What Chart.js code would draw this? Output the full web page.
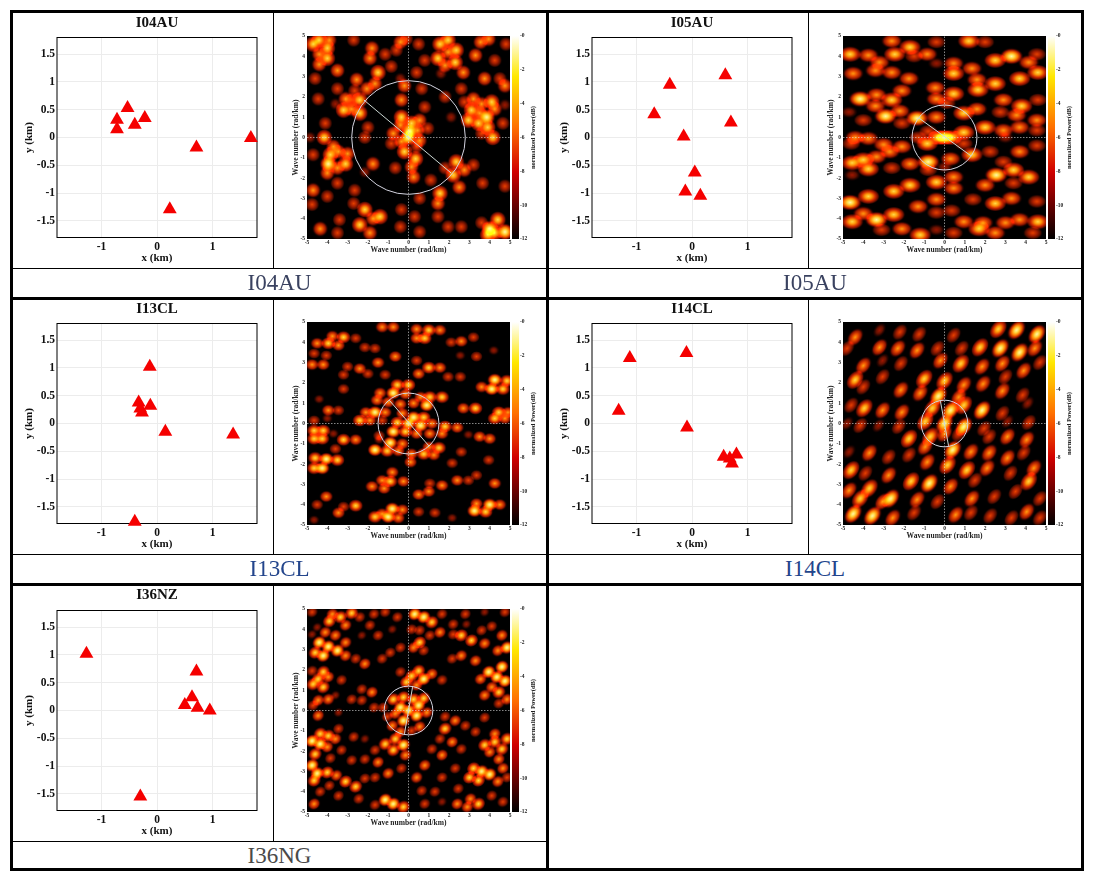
<!DOCTYPE html>
<html lang="en">
<head>
<meta charset="UTF-8">
<title>Array layouts and wavenumber response</title>
<script src="https://cdn.jsdelivr.net/npm/chart.js@4/dist/chart.umd.min.js"></script>
<style>
    body { margin: 0; background: #fff; width: 1107px; height: 876px; overflow: hidden; position: relative; }
    canvas { position: absolute; }
    .line { position: absolute; background: #000; }
    .caption { position: absolute; text-align: center; font: 23px "Liberation Serif", serif; line-height: 28px; }
</style>
</head>
<body>
<script>
// station positions (km)
const i04x = [-0.72, -0.72, -0.53, -0.4, -0.22, 0.71, 1.69, 0.23];
const i04y = [0.32, 0.15, 0.53, 0.23, 0.35, -0.18, -0.01, -1.29];
const i05x = [-0.4, 0.6, -0.68, 0.7, -0.15, 0.05, -0.12, 0.15];
const i05y = [0.95, 1.12, 0.42, 0.27, 0.02, -0.63, -0.97, -1.05];
const i13x = [-0.13, -0.33, -0.12, -0.27, -0.3, 0.15, 1.37, -0.4];
const i13y = [1.02, 0.38, 0.32, 0.2, 0.27, -0.15, -0.2, -1.77];
const i14x = [-1.12, -0.1, -1.32, -0.09, 0.57, 0.8, 0.68, 0.72];
const i14y = [1.18, 1.27, 0.23, -0.07, -0.6, -0.56, -0.63, -0.72];
const i36x = [-1.27, 0.71, 0.63, 0.5, 0.73, 0.95, -0.3];
const i36y = [1.02, 0.7, 0.24, 0.1, 0.05, 0, -1.55];

const xTicks = [-1, 0, 1];
const yTicks = [-1.5, -1, -0.5, 0, 0.5, 1, 1.5];
const waveTicks = [-5, -4, -3, -2, -1, 0, 1, 2, 3, 4, 5];
const powerTicks = [-12, -10, -8, -6, -4, -2, 0];

// ring radius and the line across it (rad/km)
const ringR = { i04: 2.8, i05: 1.6, i13: 1.5, i14: 1.15, i36: 1.2 };
const chord = {
    i04: [[-2.2, 1.85], [2.1, -1.75]],
    i05: [[-1.25, 0.95], [1.3, -0.9]],
    i13: [[-0.95, 1.15], [1.0, -1.1]],
    i14: [[-0.2, 1.1], [0.2, -1.1]],
    i36: [[0.2, 1.15], [-0.2, -1.15]]
};

// response peaks: kx, ky, brightness 1-5
const heatI04 = [[-4.7,4.6,4],[-4.4,4.8,4],[-4,4.4,4],[-3.9,4.8,3],[-4,3.9,4],[-4.4,4.1,3],[-4.4,3.6,3],[-3.5,3.3,3],[-2.7,4.8,2],[-4.6,2.9,2],
[-1.8,4.4,3],[-1.9,3.9,3],[-1.5,3.2,4],[-1.65,2.65,3],[-2.55,2.85,3],[-2.05,2.4,3],[-3.5,2.4,2],[-2.65,2.3,2],[-3.1,1.9,3],[-4.45,1.9,2],[-2.4,1.85,4],[-2.8,1.85,2],[-3.2,1.35,4],[-2.4,1.2,4],[-2.8,1.4,3],[-3.6,1.65,1],[-0.4,4.7,3],[-0.1,4.85,2],[-0.6,4.3,2],[-1.15,4.1,2],[-0.85,3.5,2],[-0.2,2.55,3],[0.65,2.4,2],[-0.4,2.9,1],[0.4,3.2,2],[0.8,3.8,2],[0.5,4.6,2],
[1.55,4.6,4],[1.95,4.8,4],[2.35,4.3,4],[1.95,4.2,3],[1.45,3.9,4],[2.3,3.7,4],[1.8,3.55,3],[2.7,3.2,3],[3.55,4.7,3],[3.95,4.85,3],[4.8,4.6,2],[3.3,4.05,3],[4.25,3.8,2],[3.75,2.9,3],[4.5,2.9,2],[4.75,2.55,3],[2.6,2.4,2],[1.6,3.15,1],
[3.2,1.9,3],[3.6,1.65,3],[4.1,1.75,4],[3.1,1.35,4],[3.5,1.2,3],[3.85,1,5],[4.25,1.4,3],[2.95,0.85,4],[3.45,0.7,4],[3.9,0.5,4],[4.15,0,4],[3.6,0.2,2],[4.65,0.7,2],[4.75,1.6,1],[2.75,1.75,2],[1.8,2,2],[0.8,1.5,2],[2.1,1,1],
[-0.35,1.85,3],[-0.35,1,4],[-0.4,0.6,3],[0.15,0.7,4],[0.55,0.85,3],[0.05,0.3,5],[0.45,0.35,3],[0.95,0.45,2],[-0.75,0.2,3],[0,0,5],[-0.35,-0.2,3],[0.55,-0.15,3],[-0.85,-0.3,2],[-0.2,-0.7,4],[0.4,-0.45,2],[0.35,-1.05,4],[-2,0.5,2],[-2.15,0,2],[-1.75,-1.3,3],[0.15,-1.45,3],[0.25,-1.95,3],[-0.65,-1.5,2],
[-4.15,0,4],[-4.1,0.7,2],[-3.7,-0.45,3],[-3.85,-0.85,4],[-3.45,-0.7,3],[-3.95,-1.3,5],[-3,-0.8,3],[-3.1,-1.3,4],[-3.5,-1.5,3],[-4,-1.75,3],[-3.5,-2.25,2],[-4.7,-2.6,3],[-4.7,-0.85,2],[-4.85,0,1],[-4.75,-3.3,2],[-4,-2.9,2],[-2.15,-1.7,1],[-2.65,-2.6,2],
[2.35,-1.2,4],[2.2,-1.85,4],[1.8,-1.5,2],[2.75,-1.6,3],[3.2,-1.35,2],[2.5,-2.45,3],[1.55,-2.75,4],[1.45,-3.25,3],[1.1,-2.1,2],[0.55,-3,2],[3.65,-2.25,2],[4.75,-2.4,2],
[-2.15,-3.55,4],[-1.75,-4,3],[-2.4,-4.3,4],[-1.4,-3.9,4],[-1.9,-4.7,3],[-2.7,-3.25,2],[-3.4,-4.05,2],[-4.35,-4.5,3],[-3.5,-4.7,2],[-0.35,-3.55,2],[0.3,-3.9,2],[-0.4,-4.4,2],[0.55,-4.65,2],[1.45,-3.9,2],[1.95,-4.4,2],[2.6,-4.4,2],[4,-4.5,5],[4.4,-4.05,4],[4.75,-4.65,5],[4.25,-4.7,4],[3.9,-4.8,4],[3.6,-4.2,2]];

const heatI05 = [[1.2,4.75,4],[-2.6,4.75,3],[-0.4,4.7,2],[-1.7,4.45,4],[-4.65,4.1,4],[-3.75,4.05,3],[-2.45,4.1,4],[-3.2,3.7,3],[-0.85,4.1,3],[-1.5,4,2],[3.3,4,5],[2.5,3.8,4],[4.15,3.7,3],[4.55,4.1,2],[2,4.7,2],[0.45,3.65,3],[1.35,3.4,3],[-0.4,3.65,1],
[-4.5,3.15,3],[-2.6,3.2,3],[-3.4,3.3,3],[-1.75,2.9,3],[0.45,3.15,4],[1.6,2.85,3],[2.5,2.65,4],[3.7,2.9,4],[4.6,3.2,4],
[-0.45,2.45,3],[-2.1,2.3,3],[0.45,2.15,4],[1.65,2.35,4],[-4.15,1.9,5],[-3.35,2.1,3],[-2.6,1.85,4],[-3.4,1.55,3],[-0.4,1.9,3],[2.9,1.85,3],[3.8,1.55,4],[4.6,1.85,2],[1.6,1.4,3],[0.1,1.7,2],[-2.2,1.3,3],[-2.9,1.05,5],[-4,0.85,2],[-4.7,1.25,1],[-1.35,0.95,5],[0.95,1.2,4],[-0.4,1,3],[2.75,1.25,2],[3.55,1.1,3],[4.55,0.85,3],[-2.1,0.7,2],[2,0.5,4],[2.9,0.35,3],[3.7,0.5,3],[4.55,0.35,2],[-0.8,0.3,2],[0.95,0.25,4],
[-4.4,0,3],[-3.75,-0.05,3],[0,0,5],[-0.3,0,4],[0.35,0,4],[-1.3,0,2],[-4.6,-0.3,2],[-3,-0.35,3],[-2.1,-0.45,3],[-0.85,-0.3,4],[0.95,-0.3,2],[3,0,1],[2.25,-0.7,2],[3.7,-0.7,3],[4.55,-0.4,2],
[-4,-1.1,4],[-4.55,-1.25,4],[-3.35,-0.95,3],[-2.7,-0.7,3],[-1.7,-1.3,3],[-0.8,-1.2,5],[0.3,-1.05,3],[1.35,-0.85,4],[2.9,-1.2,2],[-3.75,-1.55,4],[-2.6,-1.5,2],[3.4,-1.6,4],[2.55,-1.85,5],[4.15,-1.95,4],[0,-1.45,1],[-0.8,-1.6,2],[0.45,-1.95,3],[-4.55,-1.85,1],
[-0.4,-2.2,4],[-1.7,-2.35,4],[0.45,-2.5,3],[2,-2.35,3],[3.4,-2.25,2],[-2.5,-2.65,4],[-3.75,-2.9,4],[-0.4,-3.05,3],[2.5,-3.25,4],[-4.65,-3.2,5],[1.4,-3.05,2],[3.3,-3,3],[4.55,-3.15,2],[-1.3,-3.4,3],[-4,-3.75,3],[-3.35,-4.05,5],[-2.5,-3.8,4],[-0.4,-3.7,2],[0.35,-3.6,2],[0.95,-4.15,3],[1.9,-4.2,3],[3,-4.2,3],[3.7,-4.05,3],[4.6,-4.15,4],[-4.55,-4.15,4],[-2.1,-4.5,3],[1.7,-4.5,4],[-1.2,-4.8,4],[-3.1,-4.55,2],[0.45,-4.7,2],[2.5,-4.7,3],[4.35,-4.7,2],[-0.4,-4.55,1]];

const heatI13 = [[-1.3,4.75,3],[-0.75,4.75,3],[0.4,4.65,3],[1,4.6,4],[1.55,4.6,3],[0.8,4.2,4],[0.4,4.2,3],[-3.75,4.3,3],[-3.2,4.25,4],[-3.95,3.95,4],[-4.5,3.95,3],[-3.45,3.85,3],[-2.6,4.2,2],[2.6,4.05,3],[3.2,4.25,2],[2.1,4,2],[-4.65,3.45,2],[-4.05,3.35,2],[-2.15,3.75,2],[-1.65,3.7,2],[3.35,3.3,2],[4.2,3.6,1],
[-4.75,2.9,3],[-4.2,2.9,3],[-3,2.8,2],[-2.4,2.7,3],[-1.5,3,3],[-0.65,3.3,3],[0.4,3.1,2],[1,2.75,4],[1.55,2.75,3],[0.5,2.45,3],[2.55,3.35,1],[-3.2,2.4,2],[-2,2.45,2],[-1.15,2.4,2],[1.95,2.3,2],[2.55,2.3,2],[4.25,2.15,5],[4.85,2.1,4],[3.6,1.8,3],[4.1,1.7,5],[4.65,1.7,4],
[-0.55,1.9,4],[0,1.9,4],[-1.4,1.5,3],[-0.75,1.5,5],[-0.15,1.45,3],[1.65,1.3,4],[1.05,1.3,4],[0.6,1.3,3],[-1.55,1.15,3],[-1,1.05,3],[-0.4,0.95,3],[0.25,1,3],[0.9,0.9,5],[-2.1,0.55,3],[-1.65,0.55,5],[-1.15,0.55,3],[0.25,0.3,5],[0.75,0.3,4],[-0.3,0.5,3],[-2.4,0.15,4],[-1.9,0.15,3],[-1.3,0.15,2],[-0.55,0.05,4],[0,0,5],[0.6,-0.1,5],[1.15,0,3],[1.8,-0.15,4],[2.4,-0.2,3],[-0.75,-0.4,5],[-0.15,-0.4,4],[0.4,-0.5,3],[1.05,-0.5,3],[1.65,-0.5,3],[-1.45,-0.6,2],[-0.9,-0.95,5],[-1.45,-0.8,1],[-0.3,-1,3],[1,-1.15,3],[1.5,-1.2,4],[-1.65,-1.3,5],[-1.05,-1.35,4],[-0.5,-1.35,3],[0.75,-1.5,4],[0.15,-1.5,3],[1.25,-1.55,3],
[-4.65,-0.35,4],[-4.2,-0.35,4],[-4.65,-0.75,4],[-4.25,-0.75,4],[-3.7,-0.5,1],[-3.2,-0.8,4],[-2.6,-0.8,3],[-3.6,-1.25,2],[-4.6,-1.7,4],[-4.05,-1.75,5],[-3.5,-1.8,4],[-4.65,-2.2,4],[-4.25,-2.2,5],[-3.95,0.65,3],[-3.45,0.65,2],[-4.65,0.15,2],[-4,0.25,1],[-3.2,1.7,2],[-4.4,1.2,1],[2.7,0.75,3],[3.3,0.75,4],[4.45,0.55,4],[4.9,0.55,3],[4.25,0.25,4],[4.75,0.25,3],[3.5,-0.65,3],[4,-0.75,3],[2.95,-0.55,1],[2.6,-1.4,2],[3.95,-1.8,2],[2.15,-1.95,2],
[-0.8,-2.4,3],[-1.3,-2.8,3],[-0.9,-2.85,4],[-0.25,-2.85,3],[-1.8,-3.1,3],[-1.2,-3.2,3],[0.1,-1.9,3],[1.05,-2.95,2],[1.65,-3.05,3],[2.4,-2.8,3],[2.95,-2.8,2],[3.35,-2.55,2],[4.25,-2.95,3],[0.5,-3.5,3],[1,-3.35,3],[-4.05,-3.6,3],[-2.6,-4.05,4],[-3.2,-4.1,2],[-3.45,-4.4,3],[-4.5,-4,2],[-0.8,-4.2,5],[-0.3,-4.25,3],[-1.3,-4.45,3],[-1.65,-4.6,4],[-1,-4.6,5],[-0.5,-4.65,3],[3.35,-3.95,3],[4,-4,5],[4.5,-4,3],[3.25,-4.3,5],[3.8,-4.35,4],[1.3,-4.4,2],[2.15,-4.65,1],[0.5,-4.35,2],[-4.65,-4.75,1]];

const heatI14 = [[3.55,4.6,5],[2.65,4.65,4],[4.55,4.4,5],[1.75,3.75,4],[2.75,3.7,5],[3.7,3.5,5],[4.45,3.7,3],[0.45,4.35,2],[-1.25,4.4,2],[-2.2,4.5,2],[-3.2,4.6,1],[-4.4,4.25,3],[-4.8,3.7,2],[-3.2,3.75,3],[-2.3,3.7,3],[-1.35,3.6,3],[-0.35,3.7,2],[0.85,3.7,2],[-4,2.85,3],[-3.05,3.1,1],[-2.15,2.95,2],[-0.2,3.1,3],[0.8,2.95,4],[1.85,2.8,3],[2.85,2.95,3],[3.9,2.6,3],[4.7,3,2],[-4.4,2.15,4],[-3.05,2.3,2],[-1,2.2,4],[0,2.1,4],[0.95,1.9,3],[1.9,1.95,3],[3,2.3,2],[-4,1.8,2],[-2.15,1.65,3],[-1.2,1.5,3],[-0.3,1.35,5],[0.7,1.3,3],[2.85,1.6,3],[3.85,1.4,2],[-4.6,0.9,2],[-3.95,0.75,4],[-3.05,0.65,3],[-2.1,0.55,3],[-0.6,0.75,4],[0.3,0.65,5],[0.95,0.9,4],[1.85,0.65,5],[2.85,0.5,2],[4.1,1,1],[-4.15,-0.1,2],[-4.8,0,1],[-3.25,-0.1,1],[-2.25,-0.15,2],[-0.95,0.1,4],[0,0,5],[0.95,-0.15,5],[1.95,-0.25,2],[4.15,0.05,2],[3.1,0.1,1],[-1.75,-0.75,4],[-0.7,-0.65,4],[0,-0.5,3],[0.7,-0.5,2],[3.1,-0.65,3],[2.2,-0.65,2],[4.05,-0.8,3],[-4.7,-1.4,1],[-3.7,-1.45,3],[-2.75,-1.65,2],[-1.75,-1.55,2],[-0.95,-1.15,3],[0.4,-1.3,5],[1.3,-1.4,3],[2.2,-1.45,3],[3.1,-1.7,3],[3.9,-1.45,2],[-0.85,-1.9,3],[0.15,-2.05,4],[1.1,-2.3,4],[2.1,-2.2,3],[4.4,-2.2,3],[-4.6,-2.3,4],[-3.9,-2.45,2],[-2.75,-2.55,3],[-1.65,-2.85,4],[-0.75,-2.95,5],[0.3,-3.1,3],[1.5,-2.8,2],[3.25,-2.45,2],[4.15,-2.85,4],[-4.7,-3.3,3],[-3.7,-3.2,4],[-2.65,-3.7,5],[-1.35,-3.75,3],[-0.35,-3.85,2],[1.35,-3.7,3],[2.45,-3.6,2],[3.5,-3.35,2],[4.7,-3.7,2],[-4.15,-3.7,4],[-4.5,-4.45,5],[-3.55,-4.55,5],[-2.55,-4.65,3],[-1.5,-4.4,2],[0.55,-4.5,3],[1.3,-4.4,2],[2.25,-4.55,2],[3.3,-4.65,2],[4.05,-4.35,3],[4.7,-4.65,2],[-3.05,-3.85,3]];

const heatI36 = [[-4.75,4.85,2],[-3.75,4.75,3],[-3.35,4.6,4],[-2.8,4.8,4],[-3.9,4.4,4],[-3.1,4.2,3],[-2.4,4.6,2],[-4.1,3.85,3],[-3.6,3.7,3],[-4.4,3.35,5],[-3.95,3.15,5],[-3.5,2.95,5],[-3.1,3.35,3],[-4.6,2.85,4],[-4.2,2.7,5],[-3.1,2.7,3],[-4.5,4.1,1],[-4.75,3.75,1],[-2.6,2.55,2],[-2.15,2.3,3],[-1.7,4.75,2],[-1.15,4.85,2],[-0.55,4.6,2],[-1.9,4.2,2],[-2.3,3.7,1],[-1.5,3.7,2],[-0.8,4,1],[-1.3,2.55,2],[-0.9,2.85,2],[-0.4,3.1,2],
[0.3,4.75,5],[0.75,4.6,5],[1.15,4.35,4],[1.65,4.75,2],[0.55,3.95,2],[0.15,4,2],[1.05,3.7,2],[1.55,3.85,3],[2.2,4.25,2],[0.55,3.35,4],[0.25,3.1,3],[0.75,2.95,2],[2.6,3.7,4],[3.1,3.45,4],[2.2,3.75,2],[3.6,3.95,2],[4.1,4.15,2],[3.75,3.3,3],[4.4,2.95,3],[4.85,3.1,5],[4.6,3.7,3],[2.85,4.25,1],[2.8,4.75,2],[3.75,4.85,1],[4.75,4.85,2],
[2.15,2.55,2],[2.6,2.7,3],[3.3,2.45,3],[3.95,1.9,5],[4.6,2.15,5],[4.35,1.65,5],[4.75,1.45,5],[3.55,1.55,3],[4.1,1.15,3],[3.75,0.75,3],[4.45,0.9,4],[4.85,0.55,3],[4.45,0.35,2],
[0.5,1.95,4],[0.15,1.7,4],[0.75,1.55,5],[1.15,1.8,3],[-0.1,1.4,4],[1.65,1.5,2],[0.4,1.25,3],[-0.4,1.9,2],[-4.75,1.95,2],[-4.2,1.9,4],[-4.45,1.55,4],[-3.95,1.65,3],[-4.7,1.3,4],[-4.2,1.15,4],[-3.3,1.5,2],[-3.95,0.55,3],[-4.45,0.5,3],[-4.7,0.25,2],[-3.6,0.75,1],[-2.3,1.05,2],[-1.8,0.9,3],[-2.8,0.55,2],[-2.3,0.5,2],[-1.7,0.15,2],[-1.25,0.15,2],[-4.45,-0.25,3],[-3.45,-0.1,1],
[-0.4,0.15,5],[0,0,5],[0.5,0.25,5],[-0.75,0.55,4],[-0.25,0.65,4],[0.75,0.6,4],[0.25,0.55,4],[-0.65,-0.15,3],[-0.25,-0.5,5],[0.4,-0.25,5],[0.9,-0.1,3],[-1.05,-0.3,2],[-0.8,-0.75,3],[0.55,-0.8,3],[0.15,-1,2],[-0.4,-1.05,3],
[1.8,-0.3,2],[2.3,-0.5,3],[1.8,-0.9,4],[2.8,-0.75,2],[3.75,-0.35,2],[3.3,-1.05,2],[4.25,-1.15,3],[4.85,-1.4,4],[3.75,-1.7,4],[4.25,-1.55,4],[4.6,-1.9,4],[4,-2.05,3],[4.45,-2.4,3],[2.15,-1.55,3],[1.55,-1.4,2],[2.6,-1.9,2],[1.65,-2.2,3],[1.15,-1.9,2],
[-4.75,-1.5,5],[-4.35,-1.15,4],[-4.35,-1.65,5],[-3.95,-1.25,4],[-4,-1.8,3],[-3.6,-1.4,3],[-4.6,-2.15,4],[-3.45,-0.9,2],[-2.7,-1.3,2],[-3.3,-1.95,2],[-2.15,-1.4,1],[-1.15,-1.65,4],[-0.65,-1.4,4],[-0.25,-1.7,5],[-0.75,-1.95,4],[-0.15,-2.2,3],[-1.65,-1.95,2],[-3.85,-2.35,2],[-2.8,-2.45,2],[-2.15,-2.4,2],[-1.5,-2.55,3],
[-4.75,-2.7,5],[-4.5,-3.1,5],[-4,-3.05,4],[-4.65,-3.45,4],[-3.55,-3.2,3],[-3.1,-3.5,4],[-2.6,-3.75,4],[-2.15,-3.35,2],[-1,-3.1,3],[-0.35,-2.85,2],[-1.65,-3.3,2],[-3.9,-3.7,2],[-4.35,-4,2],[-3.45,-4.2,2],[-4.65,-4.6,3],[-2.45,-4.35,2],[-1.15,-4.4,5],[-0.75,-4.6,5],[-0.25,-4.75,4],[-1.65,-4.65,2],
[0.8,-2.7,3],[0.4,-3.3,3],[1.65,-3.3,2],[2.3,-2.85,2],[3.2,-2.85,4],[3.6,-3,5],[4,-3.15,5],[4.65,-2.85,3],[3,-3.3,4],[3.45,-3.45,4],[4.4,-3.5,3],[4.85,-3.3,2],[2.45,-3.85,2],[0.65,-3.95,2],[1.3,-4,2],[3.05,-4.35,3],[3.45,-4.6,4],[2.4,-4.6,3],[2.9,-4.75,3],[4.1,-4.2,2],[4.65,-4.5,2],[0.8,-4.6,2],[1.65,-4.5,1]];

const titles = ['I04AU', 'I05AU', 'I13CL', 'I14CL', 'I36NZ'];
const captions = ['I04AU', 'I05AU', 'I13CL', 'I14CL', 'I36NG'];
const captionColors = ['#3a4260', '#3a4260', '#23458c', '#23458c', '#4a4a4a'];

const serif = '"Liberation Serif", serif';

// table rules
function rule(x, y, w, h) {
    const d = document.createElement('div');
    d.className = 'line';
    d.style.cssText = `left:${x}px;top:${y}px;width:${w}px;height:${h}px`;
    document.body.appendChild(d);
}
rule(10, 10, 1074, 3); rule(10, 868, 1074, 3); rule(10, 10, 3, 861); rule(1081, 10, 3, 861);
rule(13, 297, 1068, 3); rule(13, 583, 1068, 3); rule(546, 13, 3, 855);
rule(13, 268, 533, 1); rule(549, 268, 532, 1); rule(13, 554, 533, 1); rule(549, 554, 532, 1); rule(13, 841, 533, 1);
rule(273, 13, 1, 255); rule(808, 13, 1, 255); rule(273, 300, 1, 254); rule(808, 300, 1, 254); rule(273, 586, 1, 255);

function addCanvas(x, y, w, h) {
    const c = document.createElement('canvas');
    c.width = w; c.height = h;
    c.style.left = x + 'px'; c.style.top = y + 'px';
    document.body.appendChild(c);
    return c;
}

const frame = {
    id: 'frame',
    beforeDatasetsDraw(chart) {
        const { ctx, chartArea: a } = chart;
        ctx.save();
        ctx.strokeStyle = '#000';
        ctx.lineWidth = 1;
        ctx.strokeRect(a.left, a.top, a.right - a.left, a.bottom - a.top);
        ctx.restore();
    }
};

function stationChart(i, left, top, xs, ys) {
    const cx = left === 0 ? 14 : 549, cy = [14, 300, 586][top];
    const w = 259, h = [254, 254, 255][top];
    const plotLeft = left === 0 ? 57 : 592;
    const plotTop = [37.5, 323.5, 610.5][top];
    const tickFont = { family: serif, size: 11.5, weight: 'bold' };
    new Chart(addCanvas(cx, cy, w, h), {
        type: 'scatter',
        data: { datasets: [{
            data: xs.map((x, k) => ({ x, y: ys[k] })), clip: false,
            pointStyle: 'triangle', pointRadius: 8,
            backgroundColor: '#f50000', borderColor: '#f50000', borderWidth: 0
        }] },
        plugins: [frame],
        options: {
            responsive: false, animation: false,
            layout: { padding: { top: plotTop - cy, right: cx + w - plotLeft - 200, left: 0, bottom: 0 } },
            plugins: { legend: { display: false }, tooltip: { enabled: false } },
            scales: {
                x: {
                    min: -1.8, max: 1.8,
                    afterBuildTicks: s => { s.ticks = xTicks.map(value => ({ value })); },
                    afterFit: s => { s.height = cy + h - plotTop - 200; },
                    grid: { color: '#ececec', tickLength: 0 }, border: { display: false },
                    ticks: { callback: v => String(v), color: '#111', padding: 3, maxRotation: 0, font: tickFont },
                    title: { display: true, text: 'x (km)', color: '#111', padding: { top: 0, bottom: 3 }, font: { family: serif, size: 11, weight: 'bold' } }
                },
                y: {
                    min: -1.8, max: 1.8,
                    afterBuildTicks: s => { s.ticks = yTicks.map(value => ({ value })); },
                    afterFit: s => { s.width = plotLeft - cx; },
                    grid: { color: '#ececec', tickLength: 0 }, border: { display: false },
                    ticks: { callback: v => String(v), color: '#111', padding: 2, font: tickFont },
                    title: { display: true, text: 'y (km)', color: '#111', padding: { top: 9, bottom: 0 }, font: { family: serif, size: 11, weight: 'bold' } }
                }
            }
        }
    });
    // panel title
    const t = document.createElement('div');
    t.className = 'caption';
    t.style.cssText = `left:${plotLeft}px;width:200px;top:${cy - 1}px;font:bold 15px ${serif};line-height:18px;color:#111`;
    t.textContent = titles[i];
    document.body.appendChild(t);
}

// soft blob sprites, one per brightness level
const blobStops = [
    null,
    [[0, '#a01600'], [0.5, '#601000'], [1, 'rgba(50,0,0,0)']],
    [[0, '#e84000'], [0.45, '#a01c00'], [0.8, '#480c00'], [1, 'rgba(30,0,0,0)']],
    [[0, '#ffa010'], [0.35, '#e84800'], [0.7, '#901400'], [1, 'rgba(30,0,0,0)']],
    [[0, '#ffdc48'], [0.3, '#ff9808'], [0.6, '#d02800'], [0.85, '#600c00'], [1, 'rgba(30,0,0,0)']],
    [[0, '#fff8b0'], [0.25, '#ffd840'], [0.5, '#ff7a00'], [0.75, '#a01400'], [1, 'rgba(30,0,0,0)']]
];
const blobSizes = [0, 0.75, 0.85, 0.95, 1, 1.05];
function makeSprites(rx, ry, angle) {
    return blobStops.map((stops, l) => {
        if (!stops) return null;
        const s = document.createElement('canvas');
        const a = rx * blobSizes[l], b = ry * blobSizes[l];
        s.width = s.height = Math.ceil(Math.max(a, b) * 2 + 2);
        const g = s.getContext('2d');
        g.translate(s.width / 2, s.height / 2);
        g.rotate(angle);
        g.scale(a, b);
        const rg = g.createRadialGradient(0, 0, 0, 0, 0, 1);
        stops.forEach(st => rg.addColorStop(st[0], st[1]));
        g.fillStyle = rg;
        g.beginPath(); g.arc(0, 0, 1, 0, Math.PI * 2); g.fill();
        return s;
    });
}

const PEAK_INDEX = 4;
const colorBar = {
    id: 'colorBar',
    beforeDraw(chart) {
        const { ctx, chartArea: a } = chart;
        ctx.save();
        ctx.fillStyle = '#000';
        ctx.fillRect(a.left, a.top, a.right - a.left, a.bottom - a.top);
        const g = ctx.createLinearGradient(0, a.bottom, 0, a.top);
        g.addColorStop(0, '#000');
        g.addColorStop(0.33, '#d00000');
        g.addColorStop(0.55, '#ff7000');
        g.addColorStop(0.8, '#ffe800');
        g.addColorStop(1, '#fff');
        ctx.fillStyle = g;
        ctx.fillRect(a.right + 2, a.top, 7, a.bottom - a.top);
        // axis label reads upwards, the scale title would read downwards
        ctx.translate(a.right + 23, (a.top + a.bottom) / 2);
        ctx.rotate(-Math.PI / 2);
        ctx.textAlign = 'center';
        ctx.textBaseline = 'middle';
        ctx.fillStyle = '#222';
        ctx.font = `bold 6.5px ${serif}`;
        ctx.fillText('normalized Power(dB)', 0, 0);
        ctx.restore();
    },
    // overlapping peaks add up, like the smooth map
    beforeDatasetDraw(chart, args) {
        if (args.index === PEAK_INDEX) chart.ctx.globalCompositeOperation = 'lighter';
    },
    afterDatasetDraw(chart, args) {
        if (args.index === PEAK_INDEX) chart.ctx.globalCompositeOperation = 'source-over';
    }
};

function heatChart(left, top, key, heat, sprites) {
    const cx = left === 0 ? 274 : 809, cy = [14, 300, 586][top];
    const w = 272, h = [254, 254, 255][top];
    const plotLeft = left === 0 ? 307 : 843;
    const plotTop = [36, 322, 609][top];
    const plotW = 203, plotH = 203;
    const peaks = heat.map(p => ({ x: p[0], y: p[1], l: p[2] }));
    const tickFont = { family: serif, size: 5.5, weight: 'bold' };
    const axisFont = { family: serif, size: 7.5, weight: 'bold' };
    new Chart(addCanvas(cx, cy, w, h), {
        type: 'scatter',
        data: { datasets: [
            { // ring
                data: [{ x: 0, y: 0 }], clip: false,
                pointRadius: c => c.chart.scales.x.getPixelForValue(ringR[key]) - c.chart.scales.x.getPixelForValue(0),
                pointBackgroundColor: 'transparent', pointBorderColor: '#d4d4e0', pointBorderWidth: 1
            },
            { // line across the ring
                type: 'line', data: chord[key].map(p => ({ x: p[0], y: p[1] })),
                borderColor: '#ccd8d4', borderWidth: 1, pointRadius: 0
            },
            {
                type: 'line', data: waveTicks.filter(v => v === -5 || v === 5).map(v => ({ x: v, y: 0 })),
                borderColor: '#e0e0e0', borderWidth: 0.6, borderDash: [1.5, 1.5], pointRadius: 0
            },
            {
                type: 'line', data: waveTicks.filter(v => v === -5 || v === 5).map(v => ({ x: 0, y: v })),
                borderColor: '#e0e0e0', borderWidth: 0.6, borderDash: [1.5, 1.5], pointRadius: 0
            },
            {
                data: peaks, clip: 0,
                pointStyle: c => sprites[c.raw.l]
            }
        ] },
        plugins: [colorBar],
        options: {
            responsive: false, animation: false,
            layout: { padding: { top: plotTop - cy, right: 0, left: 0, bottom: 0 } },
            plugins: { legend: { display: false }, tooltip: { enabled: false } },
            scales: {
                x: {
                    min: -5, max: 5,
                    afterBuildTicks: s => { s.ticks = waveTicks.map(value => ({ value })); },
                    afterFit: s => { s.height = cy + h - plotTop - plotH; },
                    grid: { display: false, tickLength: 0 }, border: { display: false },
                    ticks: { callback: v => String(v), color: '#222', padding: 0, maxRotation: 0, font: tickFont },
                    title: { display: true, text: 'Wave number (rad/km)', color: '#222', padding: { top: 0, bottom: 13.5 }, font: axisFont }
                },
                y: {
                    min: -5, max: 5,
                    afterBuildTicks: s => { s.ticks = waveTicks.map(value => ({ value })); },
                    afterFit: s => { s.width = plotLeft - cx; },
                    grid: { display: false, tickLength: 0 }, border: { display: false },
                    ticks: { callback: v => String(v), color: '#222', padding: 2, font: tickFont },
                    title: { display: true, text: 'Wave number (rad/km)', color: '#222', padding: { top: 17.5, bottom: 0 }, font: axisFont }
                },
                power: {
                    position: 'right', min: -12, max: 0,
                    afterBuildTicks: s => { s.ticks = powerTicks.map(value => ({ value })); },
                    afterFit: s => { s.width = cx + w - plotLeft - plotW; },
                    grid: { display: false, tickLength: 0 }, border: { display: false },
                    ticks: { callback: v => v === 0 ? '-0' : String(v), color: '#222', padding: 10, font: tickFont }
                }
            }
        }
    });
}

// blob shape differs per map
stationChart(0, 0, 0, i04x, i04y);
heatChart(0, 0, 'i04', heatI04, makeSprites(8.5, 8.5, 0));
stationChart(1, 1, 0, i05x, i05y);
heatChart(1, 0, 'i05', heatI05, makeSprites(11.5, 8, 0));
stationChart(2, 0, 1, i13x, i13y);
heatChart(0, 1, 'i13', heatI13, makeSprites(7.5, 6.5, 0));
stationChart(3, 1, 1, i14x, i14y);
heatChart(1, 1, 'i14', heatI14, makeSprites(11, 7.5, -0.9));
stationChart(4, 0, 2, i36x, i36y);
heatChart(0, 2, 'i36', heatI36, makeSprites(7.2, 6.4, -0.6));

// captions under each panel pair
const capSlots = [[13, 269, 533], [549, 269, 532], [13, 555, 533], [549, 555, 532], [13, 842, 533]];
captions.forEach((text, i) => {
    const d = document.createElement('div');
    d.className = 'caption';
    const s = capSlots[i];
    d.style.cssText += `left:${s[0]}px;top:${s[1]}px;width:${s[2]}px;color:${captionColors[i]}`;
    d.textContent = text;
    document.body.appendChild(d);
});
</script>
</body>
</html>
